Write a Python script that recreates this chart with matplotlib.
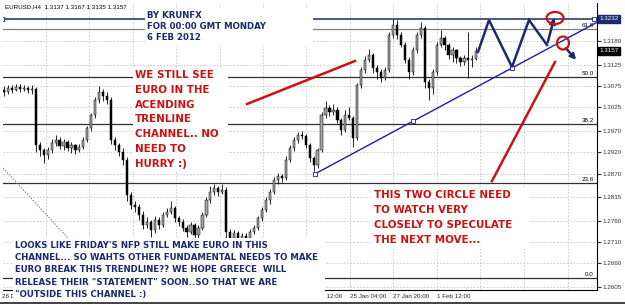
import numpy as np
import matplotlib.pyplot as plt
import matplotlib.transforms as mtransforms
from matplotlib.patches import Rectangle, Ellipse
from matplotlib.lines import Line2D

first_open = 465
closes = [461, 470, 465, 472, 468, 470, 465, 468, 337, 325,
          313, 325, 342, 349, 335, 344, 330, 337, 325, 332,
          349, 377, 407, 442, 461, 451, 442, 349, 337, 321,
          302, 220, 197, 192, 173, 150, 157, 138, 162, 150,
          173, 180, 190, 166, 157, 143, 134, 150, 126, 143,
          173, 208, 227, 236, 227, 232, 134, 120, 131, 115,
          124, 120, 134, 143, 166, 185, 208, 227, 255, 264,
          260, 302, 330, 349, 360, 358, 337, 306, 290, 325,
          407, 423, 414, 419, 395, 372, 407, 400, 353, 477,
          512, 536, 547, 517, 507, 493, 512, 594, 617, 594,
          571, 536, 507, 559, 594, 610, 484, 470, 507, 571,
          587, 571, 547, 559, 540, 531, 540, 536, 537, 557]
highs = [474, 478, 476, 480, 479, 477, 474, 476, 472, 345,
         330, 332, 350, 360, 356, 352, 348, 345, 340, 340,
         355, 382, 412, 450, 475, 468, 460, 448, 355, 342,
         330, 308, 228, 205, 200, 182, 168, 162, 170, 168,
         180, 190, 205, 195, 172, 165, 150, 158, 155, 150,
         180, 215, 240, 246, 242, 245, 238, 140, 138, 135,
         132, 130, 140, 150, 172, 192, 215, 235, 262, 272,
         270, 310, 338, 356, 368, 370, 362, 342, 312, 330,
         415, 440, 430, 432, 425, 400, 418, 425, 405, 482,
         520, 545, 562, 552, 525, 515, 520, 600, 632, 628,
         600, 578, 542, 565, 600, 624, 614, 492, 515, 578,
         605, 592, 575, 566, 562, 545, 548, 601, 548, 567]
lows = [452, 456, 458, 462, 460, 462, 458, 455, 320, 310,
        295, 305, 318, 335, 328, 326, 322, 318, 315, 320,
        328, 345, 370, 400, 436, 440, 432, 340, 325, 312,
        290, 205, 188, 180, 162, 140, 142, 122, 130, 140,
        145, 168, 175, 158, 148, 135, 122, 128, 115, 120,
        138, 168, 202, 220, 218, 222, 118, 108, 112, 104,
        108, 110, 115, 128, 138, 160, 180, 200, 222, 245,
        250, 255, 296, 322, 342, 350, 330, 298, 276, 282,
        320, 400, 405, 408, 388, 360, 368, 395, 332, 348,
        470, 505, 530, 505, 490, 485, 488, 508, 588, 585,
        565, 528, 492, 500, 552, 588, 470, 442, 455, 500,
        565, 560, 538, 530, 528, 522, 525, 494, 520, 535]

price_ticks = ["1.3180", "1.3125", "1.3075", "1.3025", "1.2970", "1.2920",
               "1.2870", "1.2815", "1.2760", "1.2710", "1.2660", "1.2605"]
time_grid = [-0.5, 10.5, 21.4, 32.4, 43.3, 54.3, 65.2, 76.2, 87.2, 98.1,
             109.1, 120.0, 131.0, 142.0]
time_labels = {-0.5: "26 D", 76.2: "23 Jan 12:00", 87.2: "25 Jan 04:00",
               98.1: "27 Jan 20:00", 109.1: "1 Feb 12:00"}

fib_low, fib_high = 1.2626, 1.3567
fib_levels = [0.0, 23.6, 38.2, 50.0, 61.8]
channel_top = 1.3232
trend_x = [78.3, 128.0]
trend_p = [1.2869, 1.3117]
last_price = 1.3157

navy = "#1b2a6b"
red = "#cc1111"

c = 1.26 + np.array(closes) / 1e4
o = 1.26 + np.array([first_open] + closes[:-1]) / 1e4
hi = 1.26 + np.array(highs) / 1e4
lo = 1.26 + np.array(lows) / 1e4
hi = np.maximum(hi, np.maximum(o, c))
lo = np.minimum(lo, np.minimum(o, c))
idx = np.arange(len(c))

fig = plt.figure(figsize=(6.25, 3.06), dpi=100)
ax = fig.add_axes([3 / 625, 16 / 306, 594 / 625, 287 / 306])
ax.set_xlim(-0.25, 149.4)
ax.set_ylim(1.25979, 1.32688)
pix = mtransforms.Affine2D().scale(1, -1).translate(0, 306)

# grid
for t in price_ticks:
    ax.axhline(float(t), color="#c4c4c4", lw=0.6, ls=(0, (2, 2)), zorder=1)
for g in time_grid:
    ax.axvline(g, color="#c4c4c4", lw=0.6, ls=(0, (2, 2)), zorder=1)

# candles
up = c >= o
ax.vlines(idx, lo, hi, color="black", lw=0.6, zorder=3)
ax.bar(idx[up], np.maximum(c - o, 0.00003)[up], bottom=o[up], width=0.55,
       color="#a4a4a4", edgecolor="black", lw=0.35, zorder=4)
ax.bar(idx[~up], (o - c)[~up], bottom=c[~up], width=0.55,
       color="black", edgecolor="black", lw=0.35, zorder=4)

# fibonacci levels
for lvl in fib_levels:
    p = fib_low + (fib_high - fib_low) * lvl / 100
    col = "#808080" if lvl == 61.8 else "#303030"
    ax.axhline(p, color=col, lw=0.9, zorder=2)
    ax.text(148.6, p + 0.0002, f"{lvl:.1f}", ha="right", va="bottom",
            fontsize=4.5, family="Liberation Sans", zorder=2)

# channel top line
ax.plot([-0.5, 148.6], [channel_top, channel_top], color=navy, lw=1.1, zorder=5,
        marker="s", ms=2.5, mfc="white", mec=navy, mew=0.6)

# ascending trendline (ray)
slope = (trend_p[1] - trend_p[0]) / (trend_x[1] - trend_x[0])
x_end = 149.4
ax.plot([trend_x[0], x_end], [trend_p[0], trend_p[0] + slope * (x_end - trend_x[0])],
        color="#1c1cb0", lw=1.0, zorder=5)
mid = (trend_x[0] + trend_x[1]) / 2
ax.plot([trend_x[0], mid, trend_x[1]],
        [trend_p[0], trend_p[0] + slope * (mid - trend_x[0]), trend_p[1]],
        ls="none", marker="s", ms=2.5, mfc="white", mec="#1c1cb0", mew=0.6, zorder=5)

# right price axis
ax.yaxis.tick_right()
ax.set_yticks([float(t) for t in price_ticks])
ax.set_yticklabels(price_ticks, family="Liberation Sans")
ax.tick_params(axis="y", labelsize=4.5, length=3, pad=1, colors="#333333")
ax.set_xticks([])
for s in ["top", "left"]:
    ax.spines[s].set_visible(False)
ax.spines["right"].set_linewidth(0.8)
ax.spines["bottom"].set_linewidth(0.8)
ax.text(1.004, channel_top, "1.3232", transform=ax.get_yaxis_transform(),
        ha="left", va="center", fontsize=4.5, family="Liberation Sans", color="white",
        bbox=dict(boxstyle="square,pad=0.25", fc=navy, ec=navy), zorder=8, clip_on=False)
ax.text(1.004, last_price, "1.3157", transform=ax.get_yaxis_transform(),
        ha="left", va="center", fontsize=4.5, family="Liberation Sans", color="white",
        bbox=dict(boxstyle="square,pad=0.25", fc="black", ec="black"), zorder=8, clip_on=False)

# time labels
xlab = mtransforms.blended_transform_factory(ax.transData, pix)
for g, lab in time_labels.items():
    ax.text(g, 297, lab, transform=xlab, ha="left", va="center", fontsize=4.5,
            family="Liberation Sans", color="#222222", zorder=2, clip_on=False)

ax.text(5, 7, "EURUSD,H4  1.3137 1.3167 1.3135 1.3157", transform=pix,
        ha="left", va="center", fontsize=4.5, family="Liberation Sans", zorder=8)

# white boxes behind the notes
for (x0, y0, x1, y1) in [(145, 8, 313, 46), (133, 67, 228, 172),
                         (371, 187, 529, 249), (13, 238, 325, 301)]:
    ax.add_patch(Rectangle((x0, y1), x1 - x0, y0 - y1, transform=pix, fc="white",
                           ec="none", zorder=6, clip_on=False))

def note(x, y0, step, lines, color, size):
    for k, line in enumerate(lines):
        ax.text(x, y0 + k * step, line, transform=pix, ha="left", va="center",
                fontsize=size, fontweight="bold", family="DejaVu Sans", color=color,
                zorder=7, clip_on=False)

note(147, 15, 11.5, ["BY KRUNFX", "FOR 00:00 GMT MONDAY", "6 FEB 2012"], navy, 6.2)
note(135, 75, 14.8, ["WE STILL SEE", "EURO IN THE", "ACENDING", "TRENLINE",
                     "CHANNEL.. NO", "NEED TO", "HURRY :)"], red, 7.4)
note(374, 195, 15, ["THIS TWO CIRCLE NEED", "TO WATCH VERY",
                    "CLOSELY TO SPECULATE", "THE NEXT MOVE..."], red, 7.4)
note(15, 245, 12.4, ["LOOKS LIKE FRIDAY'S NFP STILL MAKE EURO IN THIS",
                     "CHANNEL... SO WAHTS OTHER FUNDAMENTAL NEEDS TO MAKE",
                     "EURO BREAK THIS TRENDLINE?? WE HOPE GREECE  WILL",
                     "RELEASE THEIR \"STATEMENT\" SOON..SO THAT WE ARE",
                     "\"OUTSIDE THIS CHANNEL :)"], navy, 6.2)

# hand drawn marks
ax.add_line(Line2D([247, 355], [104, 61], transform=pix, color=red, lw=1.8, zorder=7))
ax.add_line(Line2D([555, 492], [62, 181], transform=pix, color=red, lw=1.8, zorder=7))
ax.add_line(Line2D([3, 68], [168, 238], transform=pix, color="#b06060", lw=0.7,
                   ls=(0, (1.5, 1.5)), zorder=2))
ax.add_line(Line2D([478, 489, 512, 529, 547], [52, 20, 67, 20, 45], transform=pix,
                   color=navy, lw=1.8, zorder=7, solid_joinstyle="miter"))
ax.annotate("", xy=(555, 15), xytext=(547, 45), xycoords=pix, textcoords=pix,
            arrowprops=dict(arrowstyle="->", color=navy, lw=1.8, mutation_scale=8),
            zorder=7)
ax.annotate("", xy=(578, 62), xytext=(564, 46), xycoords=pix, textcoords=pix,
            arrowprops=dict(arrowstyle="->", color=navy, lw=1.8, mutation_scale=8),
            zorder=7)
ax.add_patch(Ellipse((555, 18), 17, 12, transform=pix, fill=False, ec=red, lw=1.6,
                     zorder=8, clip_on=False))
ax.add_patch(Ellipse((563, 43), 12, 13, transform=pix, fill=False, ec=red, lw=1.6,
                     zorder=8, clip_on=False))

fig.add_artist(Line2D([0, 625], [303, 303], transform=pix, color="#222222", lw=1.2))

fig.savefig("out.png", dpi=100)
